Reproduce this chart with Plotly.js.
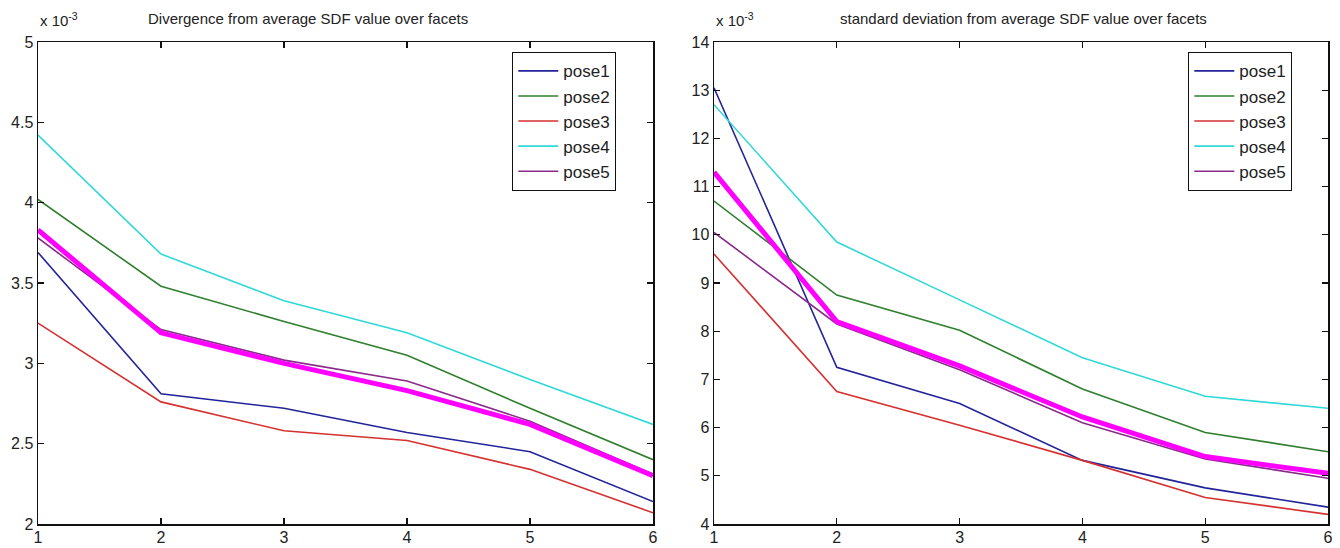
<!DOCTYPE html>
<html><head><meta charset="utf-8">
<script src="https://cdn.plot.ly/plotly-3.0.1.min.js"></script>
<style>html,body{margin:0;padding:0;background:#fff}#chart{width:1340px;height:548px}</style>
</head><body><div id="chart"></div>
<script>
// x positions (facet counts)
const xs = [1, 2, 3, 4, 5, 6];
const names = ['pose1', 'pose2', 'pose3', 'pose4', 'pose5'];
const colors = ['#23239a', '#2f7f2f', '#d63030', '#30d8d8', '#8a2a8a'];
const meanColor = '#ff00ff';

// Left: divergence (x 10^-3)
const divPose1 = [3.69, 2.81, 2.72, 2.57, 2.45, 2.14];
const divPose2 = [4.02, 3.48, 3.26, 3.05, 2.72, 2.40];
const divPose3 = [3.25, 2.76, 2.58, 2.52, 2.34, 2.07];
const divPose4 = [4.42, 3.68, 3.39, 3.19, 2.90, 2.62];
const divPose5 = [3.78, 3.21, 3.02, 2.89, 2.64, 2.31];
const divMean  = [3.83, 3.19, 3.00, 2.83, 2.62, 2.30];

// Right: standard deviation (x 10^-3)
const sdPose1 = [13.05, 7.25, 6.50, 5.32, 4.75, 4.35];
const sdPose2 = [10.70, 8.75, 8.02, 6.80, 5.90, 5.50];
const sdPose3 = [9.60, 6.75, 6.05, 5.32, 4.55, 4.20];
const sdPose4 = [12.70, 9.85, 8.65, 7.45, 6.65, 6.40];
const sdPose5 = [10.05, 8.15, 7.20, 6.10, 5.35, 4.95];
const sdMean  = [11.30, 8.20, 7.28, 6.22, 5.40, 5.05];

const titleLeft = 'Divergence from average SDF value over facets';
const titleRight = 'standard deviation from average SDF value over facets';

const divSeries = [divPose1, divPose2, divPose3, divPose4, divPose5];
const sdSeries = [sdPose1, sdPose2, sdPose3, sdPose4, sdPose5];

const traces = [];
divSeries.forEach((ys, i) => traces.push({
  x: xs, y: ys, type: 'scatter', mode: 'lines', name: names[i],
  line: {color: colors[i], width: 1.6}, xaxis: 'x', yaxis: 'y',
  legend: 'legend', legendgroup: 'L' + i
}));
traces.push({x: xs, y: divMean, type: 'scatter', mode: 'lines', showlegend: false,
  line: {color: meanColor, width: 5}, xaxis: 'x', yaxis: 'y'});
sdSeries.forEach((ys, i) => traces.push({
  x: xs, y: ys, type: 'scatter', mode: 'lines', name: names[i],
  line: {color: colors[i], width: 1.6}, xaxis: 'x2', yaxis: 'y2',
  legend: 'legend2', legendgroup: 'R' + i
}));
traces.push({x: xs, y: sdMean, type: 'scatter', mode: 'lines', showlegend: false,
  line: {color: meanColor, width: 5}, xaxis: 'x2', yaxis: 'y2'});

const W = 1340, H = 548;
const px = v => v / W, py = v => 1 - v / H;
const fontFam = '"Liberation Sans Narrow", "Liberation Sans", Arial, sans-serif';

const axCommon = {
  showgrid: false, zeroline: false, showline: true, linecolor: '#111', linewidth: 1.5,
  mirror: 'ticks', ticks: 'inside', ticklen: 6, tickwidth: 1.3, tickcolor: '#111',
  tickfont: {family: fontFam, size: 16, color: '#222'}, fixedrange: true
};

const legCommon = {
  bgcolor: '#fff', bordercolor: '#111', borderwidth: 1.3,
  font: {family: fontFam, size: 17, color: '#222'},
  xanchor: 'left', yanchor: 'top', tracegroupgap: 0, itemwidth: 40
};

const layout = {
  width: W, height: H, paper_bgcolor: '#fff', plot_bgcolor: '#fff',
  margin: {l: 0, r: 0, t: 0, b: 0},
  showlegend: true,
  xaxis: Object.assign({}, axCommon, {domain: [px(38), px(653)], range: [1, 6], dtick: 1, anchor: 'y', ticklabelstandoff: -2}),
  yaxis: Object.assign({}, axCommon, {domain: [py(524), py(42)], range: [2, 5], dtick: 0.5, anchor: 'x'}),
  xaxis2: Object.assign({}, axCommon, {domain: [px(714), px(1328)], range: [1, 6], dtick: 1, anchor: 'y2', ticklabelstandoff: -2}),
  yaxis2: Object.assign({}, axCommon, {domain: [py(524), py(42)], range: [4, 14], dtick: 1, anchor: 'x2'}),
  legend: Object.assign({}, legCommon, {x: px(512), y: py(52)}),
  legend2: Object.assign({}, legCommon, {x: px(1188), y: py(52)}),
  annotations: [
    {xref: 'paper', yref: 'paper', x: px(308), y: py(18), text: titleLeft, showarrow: false,
     font: {family: fontFam, size: 15, color: '#222'}, xanchor: 'center', yanchor: 'middle'},
    {xref: 'paper', yref: 'paper', x: px(1023), y: py(18), text: titleRight, showarrow: false,
     font: {family: fontFam, size: 15, color: '#222'}, xanchor: 'center', yanchor: 'middle'},
    {xref: 'paper', yref: 'paper', x: px(38), y: py(20), text: 'x 10<sup>-3</sup>', showarrow: false,
     font: {family: fontFam, size: 15, color: '#222'}, xanchor: 'left', yanchor: 'middle'},
    {xref: 'paper', yref: 'paper', x: px(714), y: py(20), text: 'x 10<sup>-3</sup>', showarrow: false,
     font: {family: fontFam, size: 15, color: '#222'}, xanchor: 'left', yanchor: 'middle'}
  ]
};

Plotly.newPlot('chart', traces, layout, {displayModeBar: false, staticPlot: true});
</script>
</body></html>
